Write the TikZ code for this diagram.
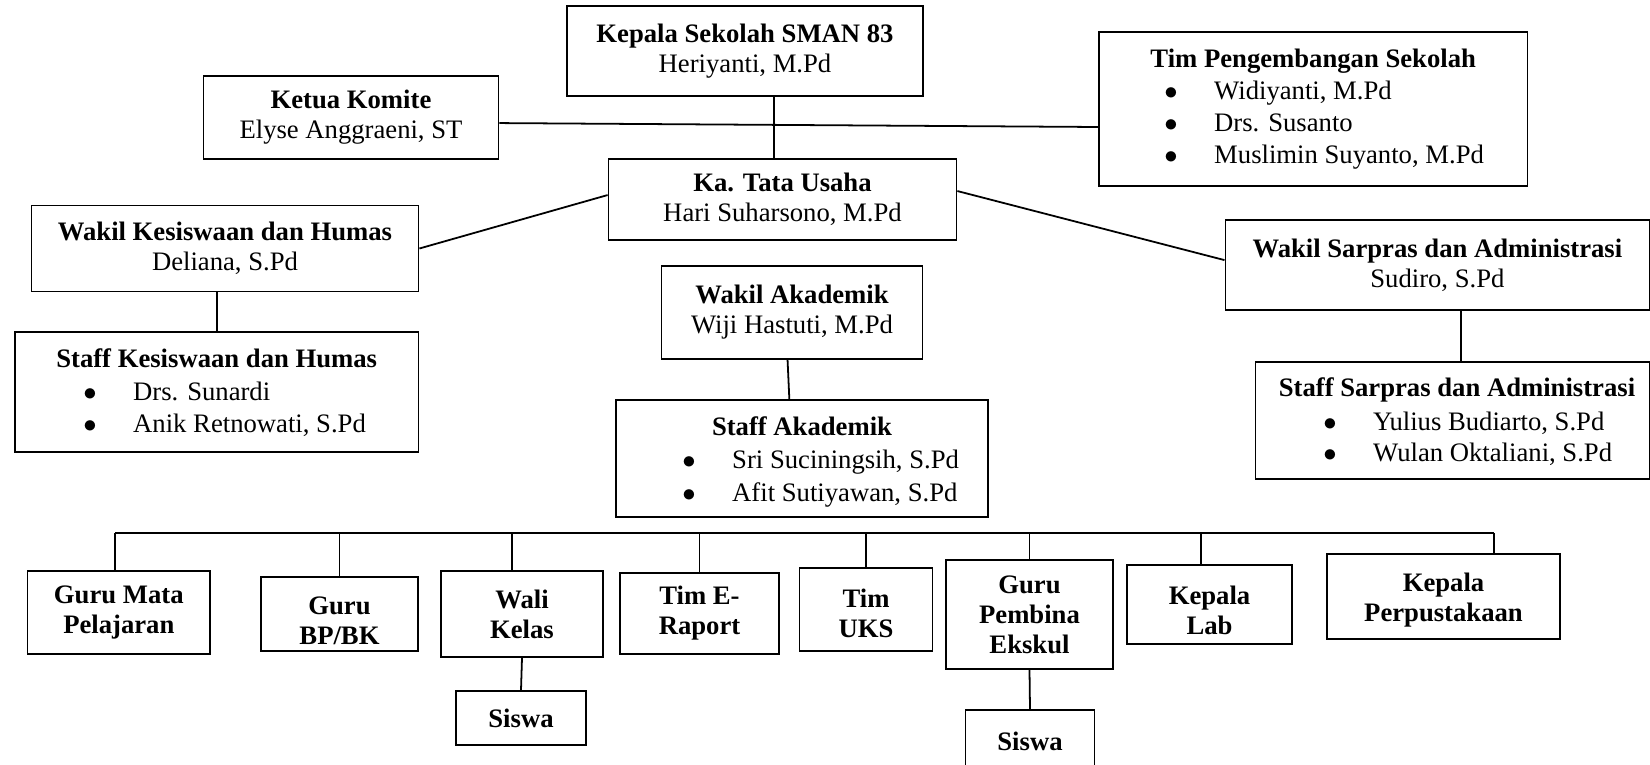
\documentclass[tikz,border=0pt]{standalone}
\usepackage{fontspec}
\setmainfont{Liberation Serif}
\usepackage{tikz}
\tikzstyle{kotak}=[draw,%
                   rectangle,%
                   line width=0.8pt,%
                   inner sep=0pt,%
                   align=center,%
                   font=\fontsize{12}{13.5}\selectfont]
\tikzstyle{kotakbawah}=[kotak,font=\fontsize{12}{13.5}\selectfont\bfseries]
\tikzstyle{judul}=[anchor=base,inner sep=0pt,font=\fontsize{12}{13.5}\selectfont\bfseries]
\tikzstyle{butir}=[anchor=base west,inner sep=0pt,font=\fontsize{12}{13.5}\selectfont]
\tikzstyle{garis}=[line width=0.8pt]
\newcommand{\titik}{\makebox[22.4pt][l]{$\bullet$}}

\begin{document}
\begin{tikzpicture}[x=0.45pt,y=-0.45pt]
  \useasboundingbox (0,0) rectangle (1650,765);

  \node[kotak,minimum width=160.2pt,minimum height=40.5pt] (kepsek) at (745,51)
       {\textbf{Kepala Sekolah SMAN 83}\\Heriyanti, M.Pd};
  \node[kotak,minimum width=132.75pt,minimum height=37.35pt] (komite) at (351,117.3)
       {\textbf{Ketua Komite}\\Elyse Anggraeni, ST};
  \node[kotak,minimum width=156.6pt,minimum height=36.45pt] (katu) at (782.5,199.5)
       {\textbf{Ka. Tata Usaha}\\Hari Suharsono, M.Pd};
  \node[kotak,minimum width=174.15pt,minimum height=38.7pt] (wks) at (225,248.5)
       {\textbf{Wakil Kesiswaan dan Humas}\\Deliana, S.Pd};
  \node[kotak,minimum width=117.45pt,minimum height=41.85pt] (wak) at (792,312.5)
       {\textbf{Wakil Akademik}\\Wiji Hastuti, M.Pd};
  \node[kotak,minimum width=190.8pt,minimum height=40.5pt] (wsa) at (1437.4,265)
       {\textbf{Wakil Sarpras dan Administrasi}\\Sudiro, S.Pd};

  \node[kotak,minimum width=192.8pt,minimum height=69pt] (tpg) at (1313.2,109) {};
  \node[judul] (tpgjudul) at (1313.2,68) {Tim Pengembangan Sekolah};
  \node[butir] (tpg1) at (1164,100) {\titik Widiyanti, M.Pd};
  \node[butir] (tpg2) at (1164,132) {\titik Drs. Susanto};
  \node[butir] (tpg3) at (1164,164) {\titik Muslimin Suyanto, M.Pd};

  \node[kotak,minimum width=181.6pt,minimum height=53.9pt] (sks) at (216.7,391.8) {};
  \node[judul] (sksjudul) at (216.7,367.7) {Staff Kesiswaan dan Humas};
  \node[butir] (sks1) at (83,400) {\titik Drs. Sunardi};
  \node[butir] (sks2) at (83,432.7) {\titik Anik Retnowati, S.Pd};

  \node[kotak,minimum width=167.4pt,minimum height=52.5pt] (sak) at (802,458.3) {};
  \node[judul] (sakjudul) at (802,435) {Staff Akademik};
  \node[butir] (sak1) at (682,468) {\titik Sri Suciningsih, S.Pd};
  \node[butir] (sak2) at (682,501) {\titik Afit Sutiyawan, S.Pd};

  \node[kotak,minimum width=177.3pt,minimum height=52.8pt] (ssa) at (1452.5,420.3) {};
  \node[judul] (ssajudul) at (1457,396.7) {Staff Sarpras dan Administrasi};
  \node[butir] (ssa1) at (1323,430) {\titik Yulius Budiarto, S.Pd};
  \node[butir] (ssa2) at (1323,461.7) {\titik Wulan Oktaliani, S.Pd};

  \node[kotakbawah,minimum width=82.1pt,minimum height=37.35pt] (gmp) at (118.8,612.5) {Guru Mata\\Pelajaran};
  \node[kotakbawah,minimum width=70.65pt,minimum height=33.3pt] (gbk) at (339.5,614) {\rule{0pt}{14pt}Guru\\BP/BK};
  \node[kotakbawah,minimum width=72.9pt,minimum height=38.7pt] (wali) at (522,614) {Wali\\Kelas};
  \node[kotakbawah,minimum width=58.5pt,minimum height=24.3pt] (siswaA) at (521,718) {Siswa};
  \node[kotakbawah,minimum width=71.55pt,minimum height=36.45pt] (ter) at (699.5,613.5) {Tim E-\\Raport};
  \node[kotakbawah,minimum width=59.85pt,minimum height=37.35pt] (uks) at (866,609.5) {\rule{0pt}{12pt}Tim\\UKS};
  \node[kotakbawah,minimum width=75.15pt,minimum height=49.05pt] (gpe) at (1029.5,614.5) {Guru\\Pembina\\Ekskul};
  \node[kotakbawah,minimum width=58.05pt,minimum height=27.9pt] (siswaB) at (1030,741) {Siswa};
  \node[kotakbawah,minimum width=74.25pt,minimum height=35.55pt] (klab) at (1209.5,604.5) {\rule{0pt}{14pt}Kepala\\Lab};
  \node[kotakbawah,minimum width=104.85pt,minimum height=38.25pt] (kper) at (1443.5,596.5) {\rule{0pt}{12pt}Kepala\\Perpustakaan};

  \coordinate (busL) at (115,533);
  \coordinate (busR) at (1494,533);

  \draw[garis] ([xshift=-3.8pt]katu.north) -- ([xshift=-3.8pt]katu.north |- kepsek.south);
  \draw[garis] ([yshift=-2.6pt]komite.east) -- ([yshift=-8.1pt]tpg.west);
  \draw[garis] ([yshift=2pt]katu.west) -- (wks.east);
  \draw[garis] ([yshift=3.8pt]katu.east) -- ([yshift=2.2pt]wsa.west);
  \draw[garis] (sks.north) -- (sks.north |- wks.south);
  \draw[garis] ([xshift=-2pt]wak.south) -- ([xshift=-5.7pt]sak.north);
  \draw[garis] ([xshift=3.8pt]ssa.north) -- ([xshift=3.8pt]ssa.north |- wsa.south);

  \draw[line width=1.2pt] (busL) -- (busR);
  \draw[garis] (busL) -- (busL |- gmp.north);
  \draw[garis] (busR) -- (busR |- kper.north);
  \foreach \n in {gbk,ter,uks,gpe}
    \draw[garis] (\n.north) -- (\n.north |- busL);
  \draw[garis] ([xshift=-4.5pt]wali.north) -- ([xshift=-4.5pt]wali.north |- busL);
  \draw[garis] ([xshift=-3.8pt]klab.north) -- ([xshift=-3.8pt]klab.north |- busL);
  \draw[garis] (wali.south) -- (siswaA.north);
  \draw[garis] (gpe.south) -- (siswaB.north);
\end{tikzpicture}
\end{document}
